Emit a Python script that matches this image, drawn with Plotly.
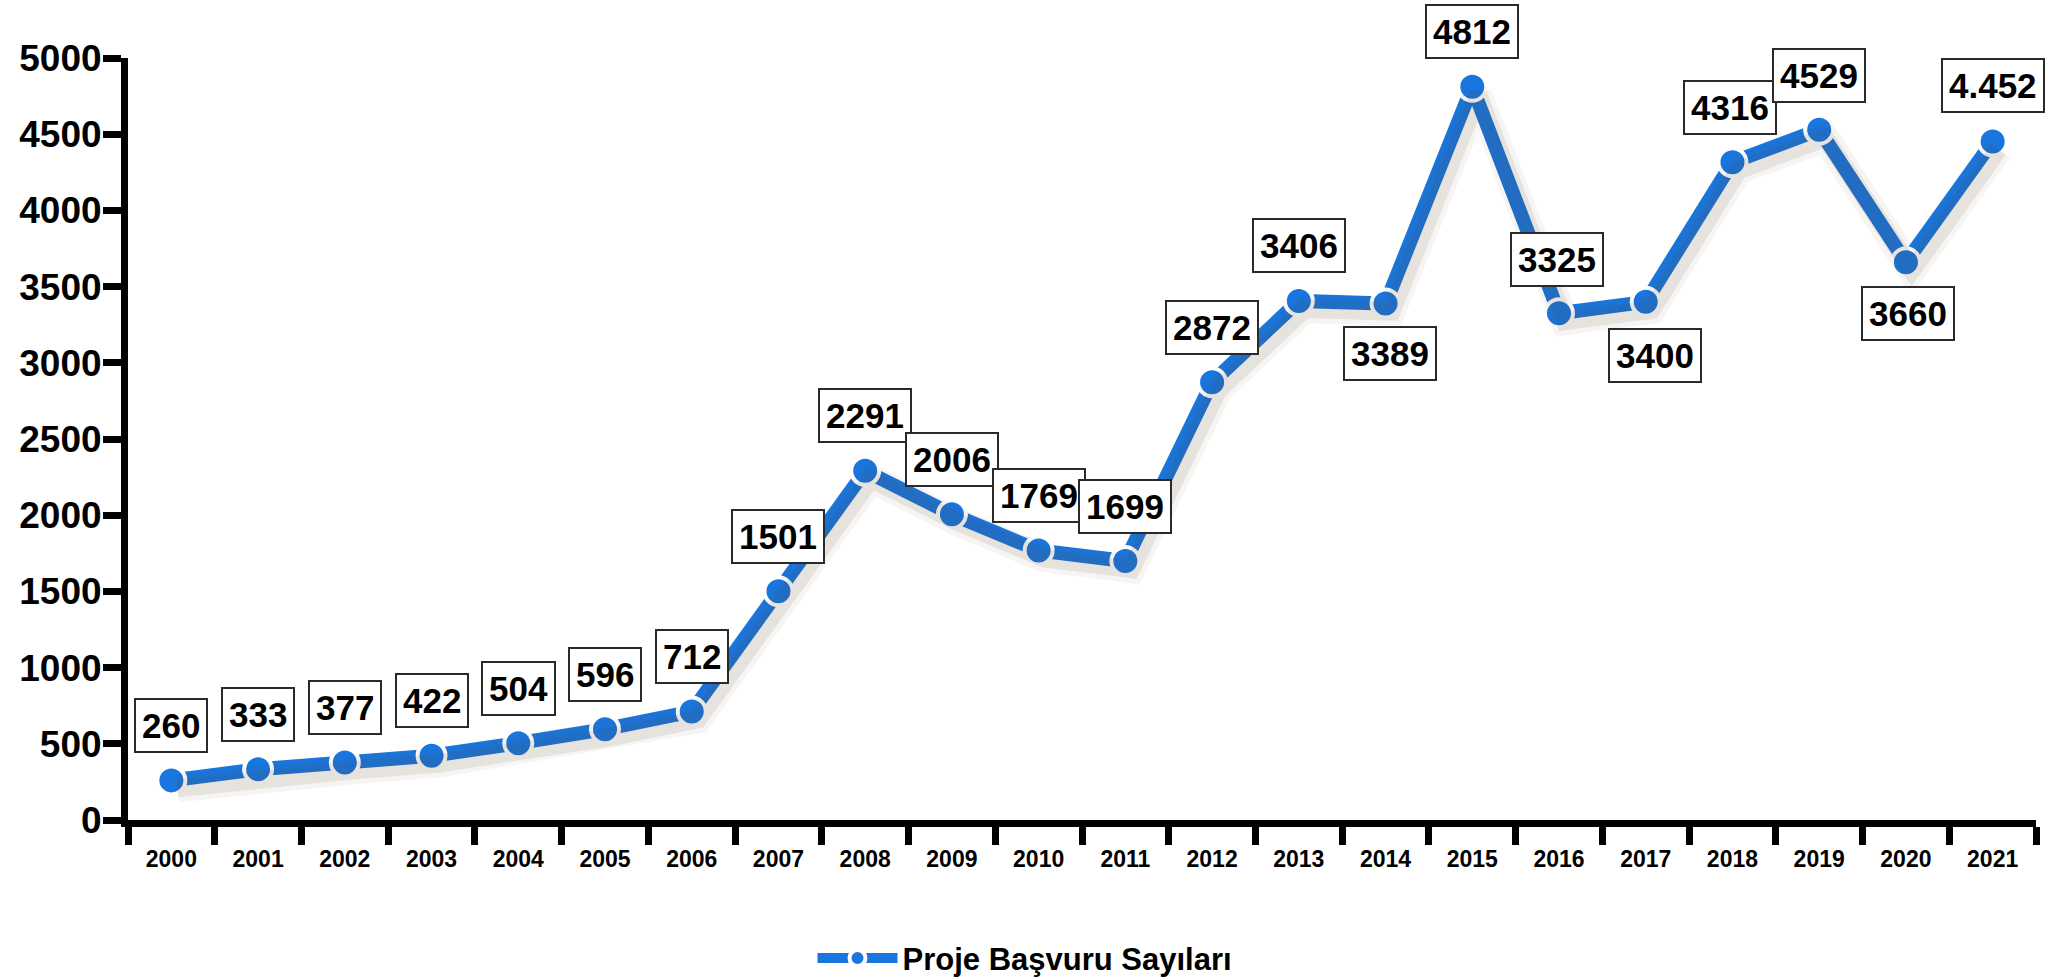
import plotly.graph_objects as go

years = [str(y) for y in range(2000, 2022)]
values = [260, 333, 377, 422, 504, 596, 712, 1501, 2291, 2006, 1769, 1699,
          2872, 3406, 3389, 4812, 3325, 3400, 4316, 4529, 3660, 4452]
labels = ["260", "333", "377", "422", "504", "596", "712", "1501", "2291", "2006",
          "1769", "1699", "2872", "3406", "3389", "4812", "3325", "3400", "4316",
          "4529", "3660", "4.452"]
# label placement: pixel offsets of each value box relative to its point
label_dx = [0, 0, 0, 0, 0, 0, 0, 0, 0, 0, 0, 0, 0, 0, 4, 0, -2, 9, -2, 0, 2, 0]
label_dy = [55, 55, 55, 55, 55, 55, 55, 55, 55, 55, 55, 55, 55, 55, -50, 55, 54, -54, 55, 54, -51, 56]
y_ticks = list(range(0, 5001, 500))

BLUE = "#1976DE"
FONT = "Liberation Sans"

W, H = 2050, 980
ML, MR, MT, MB = 128, 8, 58, 152
plot_w = W - ML - MR
plot_h = H - MT - MB
sx = 6 / plot_w
sy = 8 / plot_h

fig = go.Figure()

# soft shadow drawn on a slightly shifted copy of the axes
for wdt, col in [(28, "rgba(90,60,30,0.05)"), (18, "rgba(90,60,30,0.10)")]:
    fig.add_trace(go.Scatter(
        x=years, y=values, mode="lines", xaxis="x2", yaxis="y2",
        line=dict(color=col, width=wdt), showlegend=False, hoverinfo="skip"))

fig.add_trace(go.Scatter(
    x=years, y=values, mode="lines+markers", name="Proje Başvuru Sayıları",
    line=dict(color=BLUE, width=14),
    marker=dict(size=28, color=BLUE, line=dict(color="white", width=4)),
))

for i, (v, t, dx, dy) in enumerate(zip(values, labels, label_dx, label_dy)):
    fig.add_annotation(
        x=i, y=v, xref="x", yref="y", text=t, showarrow=False,
        xshift=dx, yshift=dy,
        font=dict(family=FONT, size=35, color="black", weight="bold"),
        bgcolor="white", bordercolor="#2a2a2a", borderwidth=2, borderpad=6,
    )

fig.update_layout(
    width=W, height=H,
    margin=dict(l=ML, r=MR, t=MT, b=MB),
    paper_bgcolor="white", plot_bgcolor="rgba(0,0,0,0)",
    font=dict(family=FONT, color="black"),
    showlegend=True,
    legend=dict(
        orientation="h", xref="container", yref="container",
        x=0.5, xanchor="center", y=0.022, yanchor="middle",
        font=dict(family=FONT, size=31, color="black", weight="bold"),
        itemwidth=80,
    ),
    xaxis=dict(
        type="category", range=[-0.5, 21.5], domain=[0, 1 - sx],
        showline=True, linecolor="black", linewidth=7,
        ticks="outside", tickson="boundaries", ticklen=18, tickwidth=7, tickcolor="black",
        tickfont=dict(family=FONT, size=23, color="black", weight="bold"),
        ticklabelstandoff=12,
        showgrid=False, zeroline=False,
    ),
    yaxis=dict(
        range=[0, 5000], domain=[sy, 1],
        tickvals=y_ticks,
        showline=True, linecolor="black", linewidth=7,
        ticks="outside", ticklen=18, tickwidth=7, tickcolor="black",
        tickfont=dict(family=FONT, size=37, color="black", weight="bold"),
        ticklabelstandoff=-6,
        showgrid=False, zeroline=False,
    ),
    xaxis2=dict(
        type="category", range=[-0.5, 21.5], domain=[sx, 1], anchor="y2",
        visible=False, showgrid=False, zeroline=False,
    ),
    yaxis2=dict(
        range=[0, 5000], domain=[0, 1 - sy], anchor="x2",
        visible=False, showgrid=False, zeroline=False,
    ),
)

fig.write_html("out.html", config={"displayModeBar": False},
               post_script="document.body.style.margin='0';document.body.style.overflow='hidden';")
